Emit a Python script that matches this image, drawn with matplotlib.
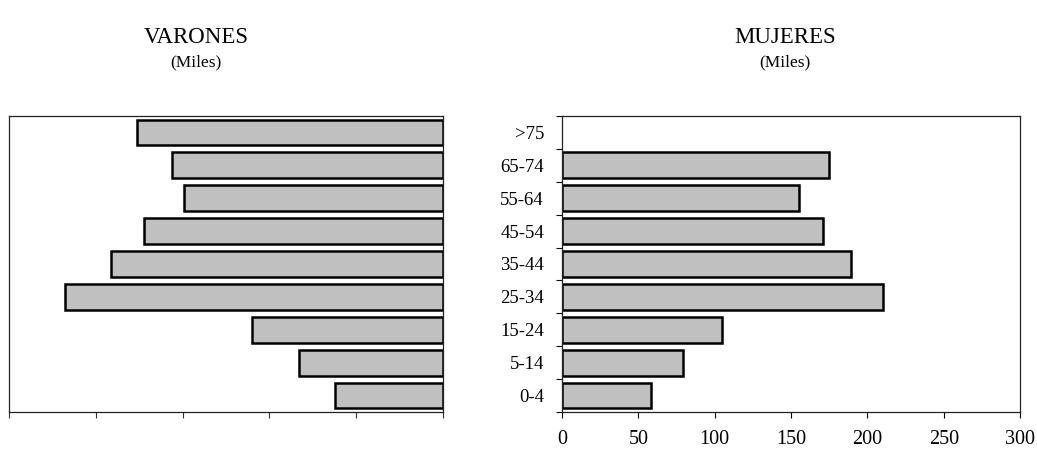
import numpy as np
import matplotlib
matplotlib.use("Agg")
import matplotlib.pyplot as plt

# age groups, bottom to top
groups = ["0-4", "5-14", "15-24", "25-34", "35-44", "45-54", "55-64", "65-74", ">75"]
varones = [62, 83, 110, 218, 191, 172, 149, 156, 176]
mujeres = [58, 79, 105, 210, 189, 171, 155, 175, 0]

left_ticks = [0, 50, 100, 150, 200, 250]
right_ticks = [0, 50, 100, 150, 200, 250, 300]

plt.rcParams["font.family"] = ["Liberation Serif", "DejaVu Serif"]

fig = plt.figure(figsize=(10.37, 4.5), dpi=100)
ax_v = fig.add_axes([0.0087, 0.0844, 0.4185, 0.658])
ax_m = fig.add_axes([0.542, 0.0844, 0.4417, 0.658])

y = np.arange(len(groups))


def draw_bars(ax, values):
    # empty groups get no outline, so nothing shows at zero
    lw = [1.8 if v > 0 else 0 for v in values]
    ax.barh(y, values, height=0.78, color="#C0C0C0", edgecolor="black", linewidth=lw)


# ── Varones (reversed x, no labels) ──────────────────────────────────────────
draw_bars(ax_v, varones)
ax_v.set_xlim(250, 0)
ax_v.set_ylim(-0.5, len(groups) - 0.5)
ax_v.set_xticks(left_ticks)
ax_v.set_xticklabels([])
ax_v.set_yticks([])
ax_v.tick_params(axis="x", direction="out", length=4, width=0.8, color="#333333")

# ── Mujeres ──────────────────────────────────────────────────────────────────
draw_bars(ax_m, mujeres)
ax_m.set_xlim(0, 300)
ax_m.set_ylim(-0.5, len(groups) - 0.5)
ax_m.set_xticks(right_ticks)
ax_m.set_xticklabels([str(t) for t in right_ticks], fontsize=14.5)
ax_m.set_yticks(np.arange(len(groups) + 1) - 0.5)
ax_m.set_yticklabels([])
ax_m.set_yticks(y, minor=True)
ax_m.set_yticklabels(groups, minor=True, fontsize=13.5)
ax_m.tick_params(axis="y", which="major", direction="out", length=4, width=0.8)
ax_m.tick_params(axis="y", which="minor", length=0, pad=13)
ax_m.tick_params(axis="x", direction="out", length=4, width=0.8, pad=9)

for ax in (ax_v, ax_m):
    for sp in ax.spines.values():
        sp.set_linewidth(0.9)
        sp.set_color("#222222")

fig.text(0.189, 0.916, "VARONES", ha="center", va="center", fontsize=16.5)
fig.text(0.189, 0.861, "(Miles)", ha="center", va="center", fontsize=12.5)
fig.text(0.757, 0.916, "MUJERES", ha="center", va="center", fontsize=16.5)
fig.text(0.757, 0.861, "(Miles)", ha="center", va="center", fontsize=12.5)

fig.savefig("out.png", dpi=100)
